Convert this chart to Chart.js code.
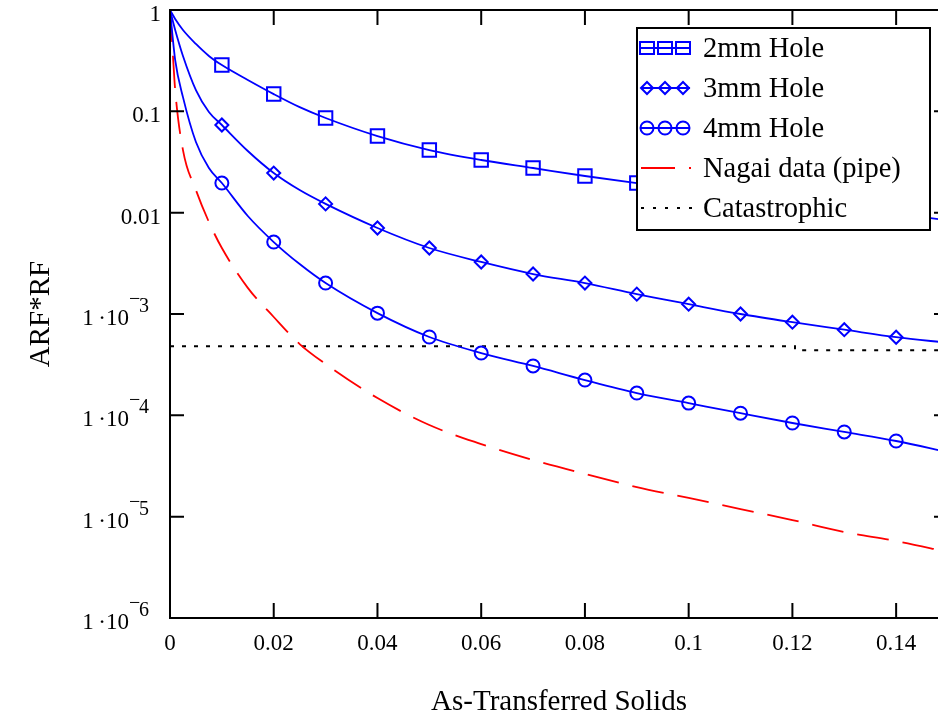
<!DOCTYPE html>
<html>
<head>
<meta charset="utf-8">
<script src="https://cdn.jsdelivr.net/npm/chart.js@4"></script>
<style>
html, body { margin: 0; padding: 0; overflow: hidden; background: #fff; }
canvas { display: block; }
</style>
</head>
<body>
<canvas id="MyChart" width="948" height="717"></canvas>
<script>
// x positions (mass fraction of solids) shared by the three hole curves
var xs = [0, 0.001, 0.0025, 0.005, 0.0075, 0.01, 0.015, 0.02, 0.025, 0.03, 0.04, 0.05, 0.06, 0.07, 0.08, 0.09, 0.10, 0.11, 0.12, 0.13, 0.14, 0.15];
var hole2 = [1, 0.815, 0.635, 0.462, 0.352, 0.286, 0.204, 0.148, 0.110, 0.086, 0.057, 0.0415, 0.0331, 0.0276, 0.0230, 0.0196, 0.0169, 0.0146, 0.0127, 0.0111, 0.0097, 0.0084];
var hole3 = [1, 0.635, 0.352, 0.162, 0.0985, 0.0733, 0.0406, 0.0246, 0.0167, 0.0122, 0.00706, 0.00448, 0.00326, 0.00248, 0.00202, 0.00157, 0.00125, 0.00100, 0.00083, 0.00070, 0.00059, 0.00052];
var hole4 = [1, 0.321, 0.138, 0.0498, 0.0276, 0.0196, 0.00927, 0.00513, 0.00311, 0.00202, 0.00102, 0.000593, 0.000412, 0.000307, 0.000223, 0.000166, 0.000132, 0.000105, 0.000084, 0.0000685, 0.0000558, 0.0000434];

var nagaiX = [0, 0.0005, 0.001, 0.0025, 0.005, 0.0075, 0.01, 0.015, 0.02, 0.025, 0.03, 0.04, 0.05, 0.06, 0.07, 0.08, 0.09, 0.10, 0.11, 0.12, 0.13, 0.14, 0.15];
var nagai = [1, 0.403, 0.162, 0.0415, 0.0167, 0.00809, 0.00448, 0.00181, 0.000934, 0.000505, 0.000321, 0.000148, 0.0000802, 0.0000521, 0.0000362, 0.0000264, 0.0000196, 0.0000153, 0.0000119, 0.00000926, 0.00000705, 0.00000575, 0.00000448];

var catX = [0, 0.1205, 0.1205, 0.15];
var cat = [0.00048, 0.00048, 0.00044, 0.00044];

var xTicks = [0, 0.02, 0.04, 0.06, 0.08, 0.1, 0.12, 0.14];
var xTickLabels = ["0", "0.02", "0.04", "0.06", "0.08", "0.1", "0.12", "0.14"];
var yTicks = [1, 0.1, 0.01, 1e-3, 1e-4, 1e-5, 1e-6];
var yTickText = ["1", "0.1", "0.01", "1\u2009\u00b710", "1\u2009\u00b710", "1\u2009\u00b710", "1\u2009\u00b710"];
var yTickSup = ["", "", "", "3", "4", "5", "6"];

var legendLabels = ["2mm Hole", "3mm Hole", "4mm Hole", "Nagai data (pipe)", "Catastrophic"];

var BLUE = "#0000ff", RED = "#ff0000";
var SERIF = '"Liberation Serif", "Times New Roman", serif';

function pts(xv, yv) {
	return xv.map(function(x, i) { return { x: x, y: yv[i] }; });
}
// markers only every 0.01 (not at x=0)
function markerRadius(r) {
	return xs.map(function(x) {
		var k = x * 100;
		return (x > 0 && x < 0.145 && Math.abs(k - Math.round(k)) < 1e-9) ? r : 0;
	});
}

function blueSet(label, yv, style, r) {
	return {
		label: label,
		data: pts(xs, yv),
		borderColor: BLUE,
		borderWidth: 1.8,
		pointStyle: style,
		pointRadius: markerRadius(r),
		pointBorderColor: BLUE,
		pointBackgroundColor: "rgba(0,0,0,0)",
		pointBorderWidth: 2,
		cubicInterpolationMode: "monotone",
		fill: false
	};
}

function drawMarker(ctx, style, x, y) {
	ctx.beginPath();
	if (style === "rect") {
		ctx.rect(x - 7, y - 6, 14, 12);
		ctx.moveTo(x - 7, y); ctx.lineTo(x + 7, y);
	} else if (style === "rectRot") {
		ctx.moveTo(x - 6, y); ctx.lineTo(x, y - 6); ctx.lineTo(x + 6, y); ctx.lineTo(x, y + 6); ctx.closePath();
	} else {
		ctx.arc(x, y, 6.5, 0, Math.PI * 2);
	}
	ctx.stroke();
}

var framePlugin = {
	id: "frame",
	afterDatasetsDraw: function(chart) {
		var ctx = chart.ctx, a = chart.chartArea, sx = chart.scales.x, sy = chart.scales.y;
		ctx.save();
		ctx.strokeStyle = "#000";
		ctx.lineWidth = 2;
		ctx.setLineDash([]);
		ctx.strokeRect(a.left, a.top, a.right - a.left, a.bottom - a.top);
		ctx.beginPath();
		xTicks.forEach(function(v) {
			var px = sx.getPixelForValue(v);
			ctx.moveTo(px, a.bottom); ctx.lineTo(px, a.bottom - 15);
			ctx.moveTo(px, a.top); ctx.lineTo(px, a.top + 15);
		});
		yTicks.forEach(function(v) {
			var py = sy.getPixelForValue(v);
			ctx.moveTo(a.left, py); ctx.lineTo(a.left + 14, py);
			ctx.moveTo(a.right, py); ctx.lineTo(a.right - 14, py);
		});
		ctx.stroke();

		// y tick labels with superscript exponents
		ctx.fillStyle = "#000";
		yTicks.forEach(function(v, i) {
			var py = sy.getPixelForValue(v);
			ctx.font = "23px " + SERIF;
			ctx.textBaseline = "alphabetic";
			if (!yTickSup[i]) {
				ctx.textAlign = "right";
				ctx.fillText(yTickText[i], 161, py + 11);
			} else {
				ctx.textAlign = "right";
				ctx.fillText(yTickText[i], 129, py + 11);
				ctx.textAlign = "left";
				ctx.font = "20px " + SERIF;
				ctx.fillText("\u2212", 129, py - 9);
				ctx.fillText(yTickSup[i], 139, py - 2);
			}
		});

		// legend box
		var lx = 637, ly = 28, lw = 293, lh = 202;
		ctx.fillStyle = "#fff";
		ctx.fillRect(lx, ly, lw, lh);
		ctx.strokeStyle = "#000";
		ctx.lineWidth = 2;
		ctx.strokeRect(lx, ly, lw, lh);
		var styles = ["rect", "rectRot", "circle"];
		legendLabels.forEach(function(t, i) {
			var cy = 48 + i * 40;
			if (i < 3) {
				ctx.strokeStyle = BLUE;
				ctx.lineWidth = 1.8;
				ctx.beginPath(); ctx.moveTo(641, cy); ctx.lineTo(690, cy); ctx.stroke();
				ctx.lineWidth = 2;
				[647, 665, 683].forEach(function(mx) { drawMarker(ctx, styles[i], mx, cy); });
			} else if (i === 3) {
				ctx.strokeStyle = RED;
				ctx.lineWidth = 1.8;
				ctx.beginPath(); ctx.moveTo(641, cy); ctx.lineTo(675, cy); ctx.moveTo(689, cy); ctx.lineTo(691, cy); ctx.stroke();
			} else {
				ctx.strokeStyle = "#000";
				ctx.lineWidth = 2;
				ctx.setLineDash([3, 9]);
				ctx.beginPath(); ctx.moveTo(641, cy); ctx.lineTo(692, cy); ctx.stroke();
				ctx.setLineDash([]);
			}
			ctx.fillStyle = "#000";
			ctx.font = "28.5px " + SERIF;
			ctx.textAlign = "left";
			ctx.textBaseline = "alphabetic";
			ctx.fillText(t, 703, cy + 9);
		});
		ctx.restore();
	}
};

var ctx = document.getElementById("MyChart").getContext("2d");
var chart = new Chart(ctx, {
	type: "line",
	data: {
		datasets: [
			blueSet(legendLabels[0], hole2, "rect", 9.5),
			blueSet(legendLabels[1], hole3, "rectRot", 6.5),
			blueSet(legendLabels[2], hole4, "circle", 6.5),
			{
				label: legendLabels[3],
				data: pts(nagaiX, nagai),
				borderColor: RED,
				borderWidth: 1.8,
				borderDash: [32, 14],
				pointRadius: 0,
				cubicInterpolationMode: "monotone",
				fill: false
			},
			{
				label: legendLabels[4],
				data: pts(catX, cat),
				borderColor: "#000",
				borderWidth: 2,
				borderDash: [4, 8],
				pointRadius: 0,
				tension: 0,
				fill: false
			}
		]
	},
	options: {
		responsive: false,
		animation: false,
		events: [],
		layout: { padding: { top: 10, left: 0, right: 0, bottom: 0 } },
		plugins: { legend: { display: false }, tooltip: { enabled: false } },
		scales: {
			x: {
				type: "linear",
				min: 0,
				max: 0.15,
				grid: { display: false, drawTicks: false },
				border: { display: false },
				afterBuildTicks: function(s) { s.ticks = xTicks.map(function(v) { return { value: v }; }); },
				afterFit: function(s) { s.height = 99; },
				ticks: {
					color: "#000",
					padding: 12,
					maxRotation: 0,
					font: { family: SERIF, size: 23 },
					callback: function(v) { var i = xTicks.indexOf(v); return i >= 0 ? xTickLabels[i] : ""; }
				},
				title: {
					display: true,
					text: "As-Transferred Solids",
					color: "#000",
					font: { family: SERIF, size: 29, lineHeight: 1 },
					padding: { top: 0, bottom: 0 }
				}
			},
			y: {
				type: "logarithmic",
				min: 1e-6,
				max: 1,
				grid: { display: false, drawTicks: false },
				border: { display: false },
				afterBuildTicks: function(s) { s.ticks = yTicks.map(function(v) { return { value: v }; }); },
				afterFit: function(s) { s.width = 170; },
				ticks: { display: false },
				title: {
					display: true,
					text: "ARF*RF",
					color: "#000",
					font: { family: SERIF, size: 29, lineHeight: 1 },
					padding: { top: 27, bottom: 0 }
				}
			}
		}
	},
	plugins: [framePlugin]
});
</script>
</body>
</html>
